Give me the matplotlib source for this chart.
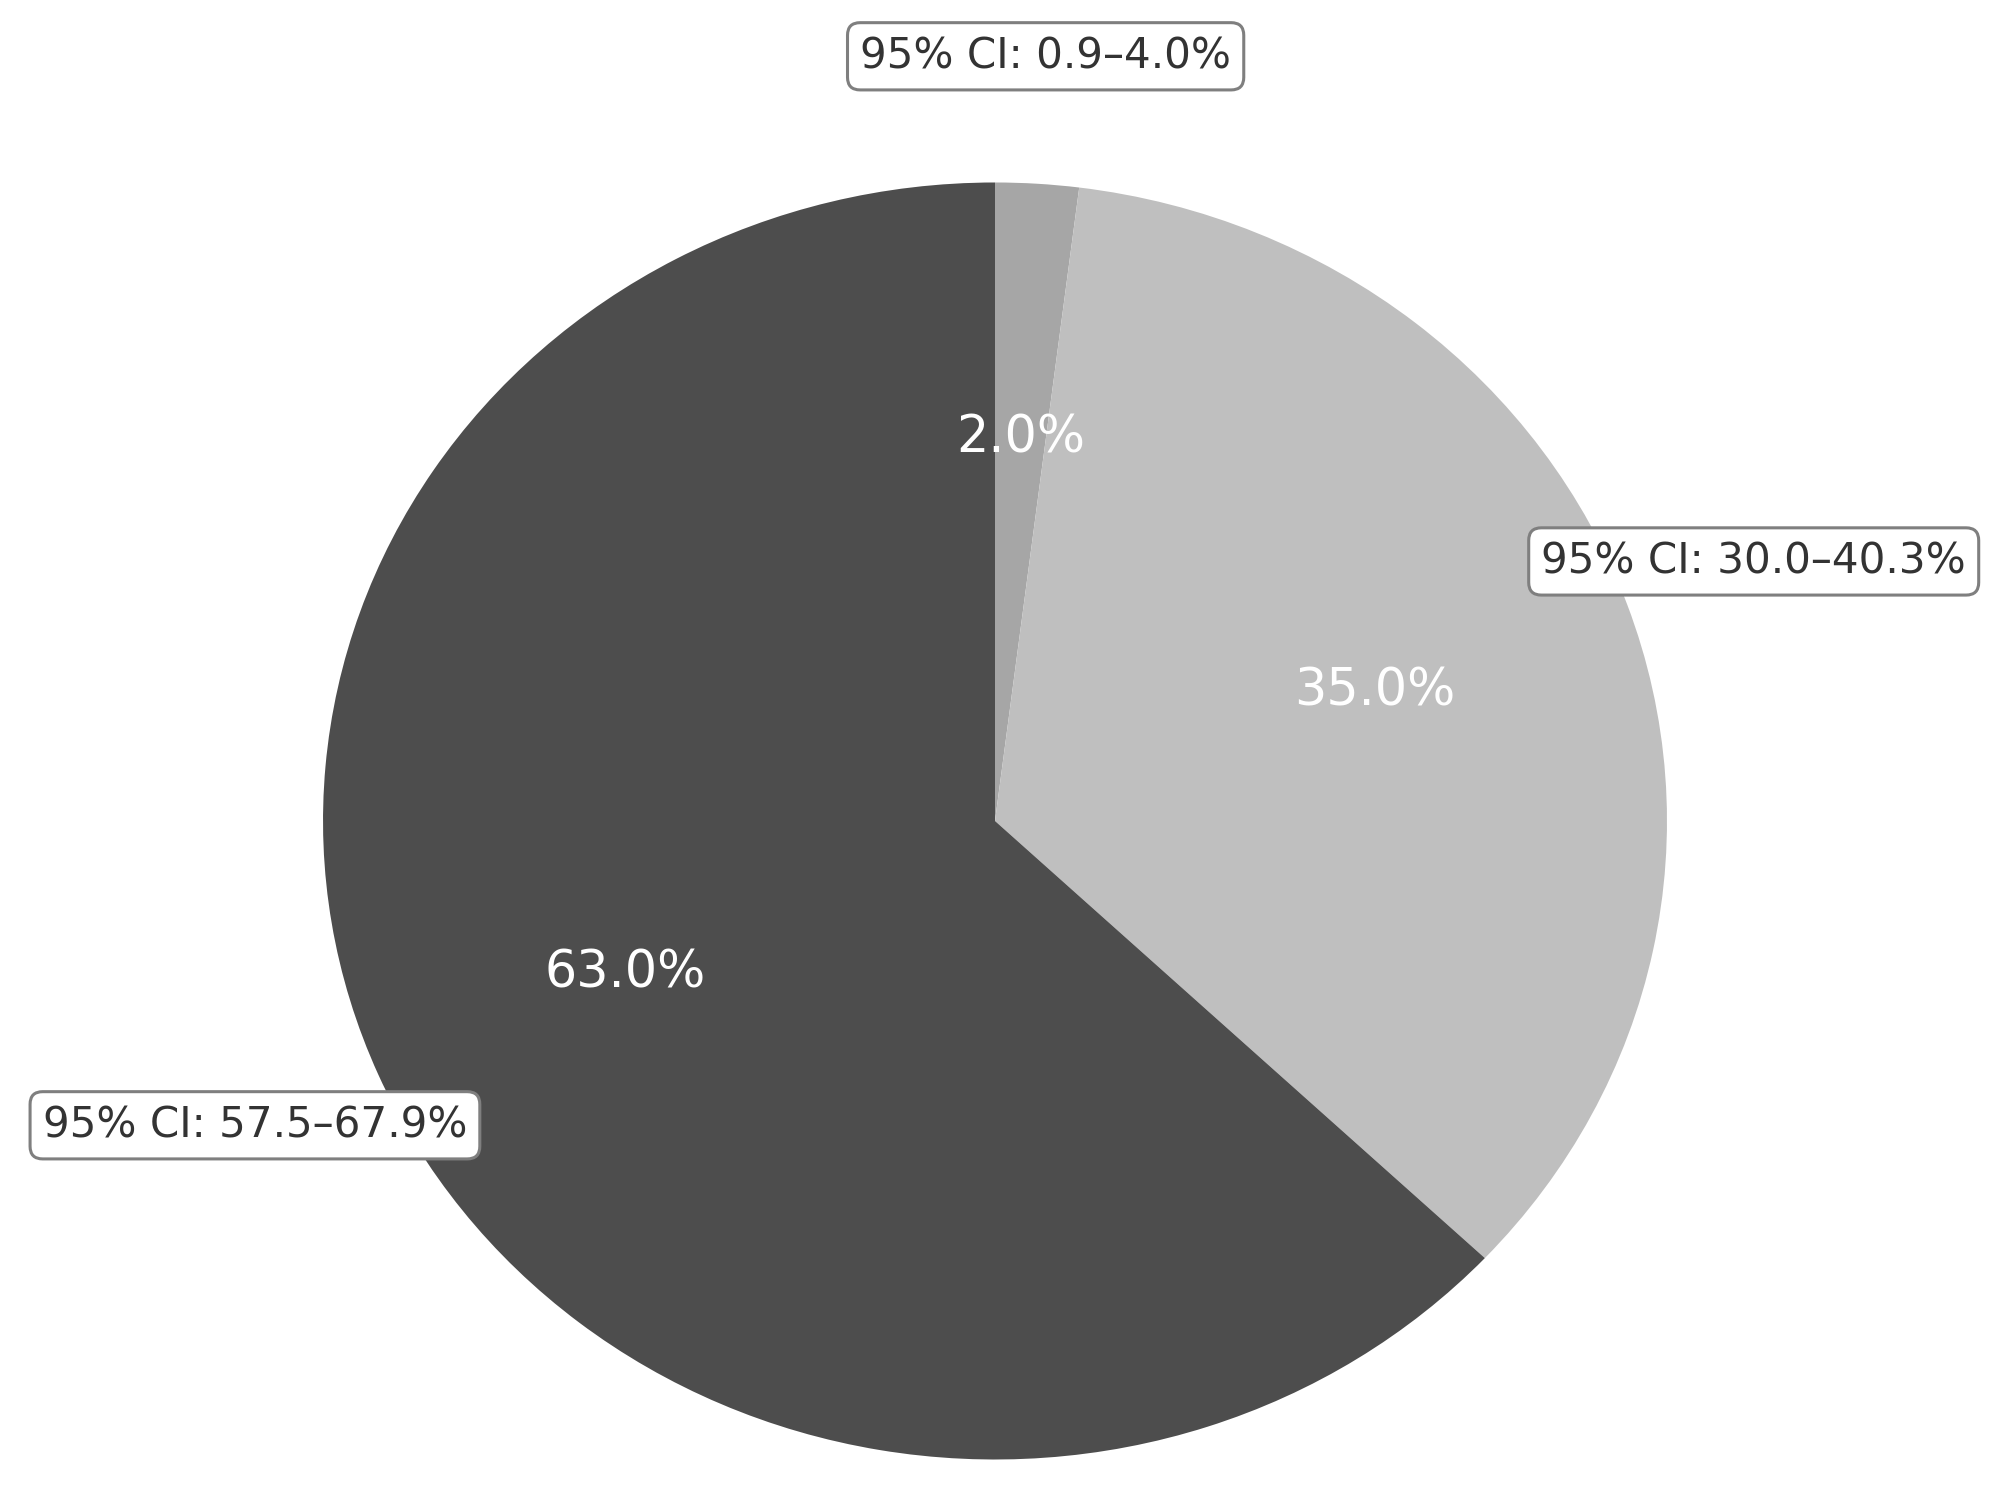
import matplotlib.pyplot as plt
import numpy as np

# datos
porcentajes = [2.0, 35.0, 63.0]
ci_bajo = [0.9, 30.0, 57.5]
ci_alto = [4.0, 40.3, 67.9]
colores = ["#a6a6a6", "#bfbfbf", "#4d4d4d"]

fig = plt.figure(figsize=(20.15, 14.95), dpi=100)
ax = fig.add_axes([0, 0, 1, 1])

wedges, textos, autotextos = ax.pie(
    porcentajes,
    colors=colores,
    startangle=90,
    counterclock=False,
    autopct="%1.1f%%",
    pctdistance=0.6,
    textprops={"color": "white", "fontsize": 36.5},
)

# etiquetas de intervalo de confianza
for w, lo, hi in zip(wedges, ci_bajo, ci_alto):
    ang = np.deg2rad((w.theta1 + w.theta2) / 2)
    x = 1.2 * np.cos(ang)
    y = 1.2 * np.sin(ang)
    ax.text(
        x, y, f"95% CI: {lo:.1f}–{hi:.1f}%",
        ha="center", va="center", fontsize=30.3, color="#333333",
        bbox=dict(boxstyle="round,pad=0.3", fc="white", ec="#7f7f7f", lw=2.2),
    )

# el pastel se ve estirado horizontalmente
ax.set_aspect("auto")
ax.set_xlim(-1.4807, 1.5179)
ax.set_ylim(-1.0556, 1.2858)

fig.savefig("out.png", dpi=100)
